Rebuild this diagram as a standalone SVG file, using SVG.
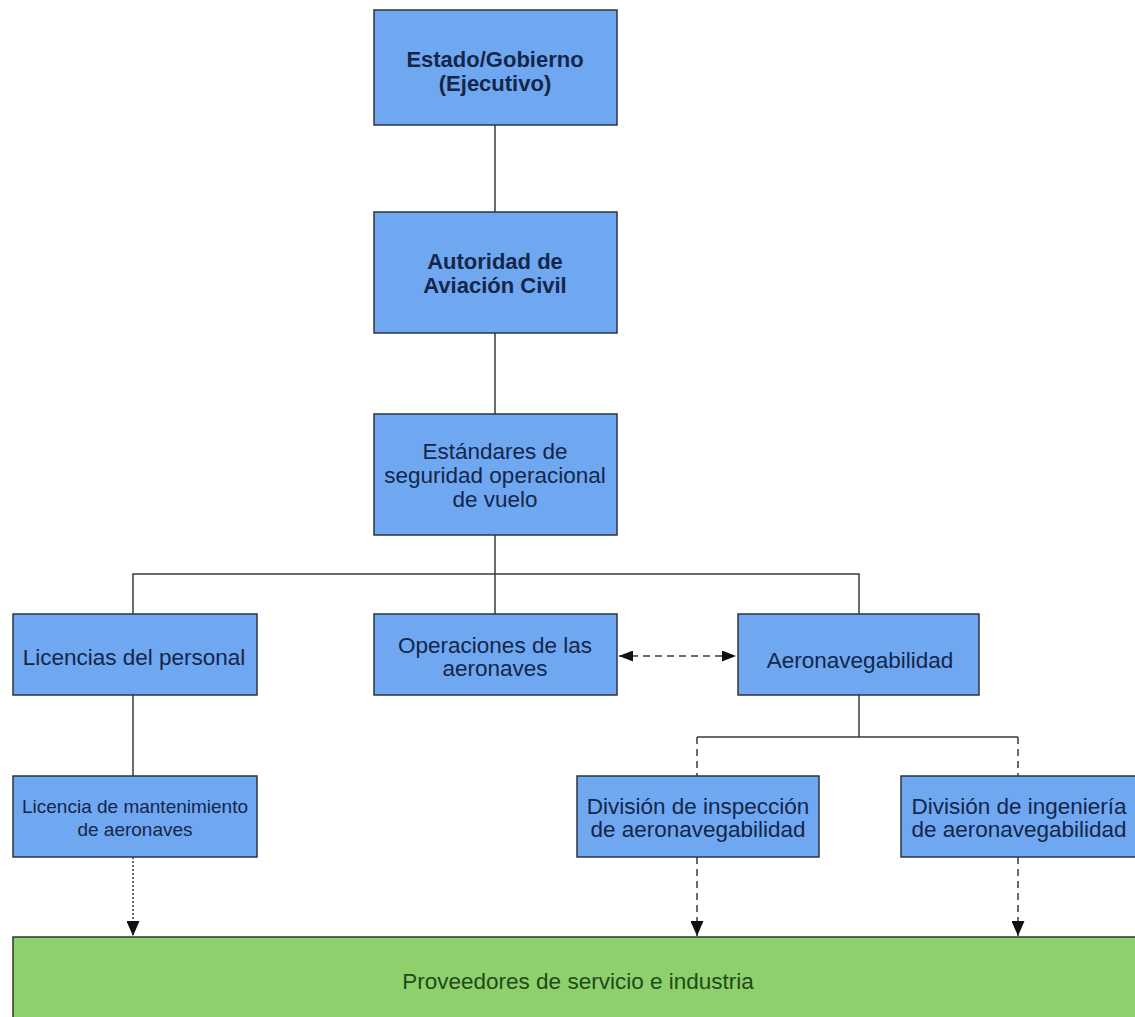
<svg xmlns="http://www.w3.org/2000/svg" width="1135" height="1017" viewBox="0 0 1135 1017">
<defs>
<style>
.box{fill:#6fa8f1;stroke:#2b3442;stroke-width:1.5}
.green{fill:#8ed06b;stroke:#2b3a2b;stroke-width:1.5}
.t{font-family:"Liberation Sans",Arial,sans-serif;font-size:22.5px;fill:#14264a;text-anchor:middle}
.b{font-weight:bold;font-size:22px}
.s{font-size:19px}
.g{fill:#1f4a1a}
.ln{stroke:#3a3a3a;stroke-width:1.5;fill:none}
.dash{stroke-dasharray:7,5}
.dot{stroke-dasharray:2,2}
</style>
<marker id="ah" viewBox="0 0 10 10" refX="10" refY="5" markerWidth="14" markerHeight="11" markerUnits="userSpaceOnUse" orient="auto-start-reverse" preserveAspectRatio="none">
<path d="M0,0 L10,5 L0,10 z" fill="#111"/>
</marker>
<marker id="ahd" viewBox="0 0 10 10" refX="10" refY="5" markerWidth="15" markerHeight="13" markerUnits="userSpaceOnUse" orient="auto" preserveAspectRatio="none">
<path d="M0,0 L10,5 L0,10 z" fill="#111"/>
</marker>
</defs>
<rect width="1135" height="1017" fill="#ffffff"/>
<g id="connectors">
<line class="ln" x1="495" y1="125" x2="495" y2="212"/>
<line class="ln" x1="495" y1="333" x2="495" y2="414"/>
<line class="ln" x1="495" y1="535" x2="495" y2="614"/>
<polyline class="ln" points="133,614 133,574 859,574 859,614"/>
<line class="ln" x1="133" y1="695" x2="133" y2="776"/>
<line class="ln dash" x1="619" y1="656" x2="736" y2="656" marker-start="url(#ah)" marker-end="url(#ah)"/>
<line class="ln" x1="859" y1="695" x2="859" y2="737"/>
<line class="ln" x1="697" y1="737" x2="1018" y2="737"/>
<line class="ln dash" x1="697" y1="737" x2="697" y2="776"/>
<line class="ln dash" x1="1018" y1="737" x2="1018" y2="776"/>
<line class="ln dot" x1="133" y1="857" x2="133" y2="936" marker-end="url(#ahd)"/>
<line class="ln dash" x1="697" y1="857" x2="697" y2="936" marker-end="url(#ahd)"/>
<line class="ln dash" x1="1018" y1="857" x2="1018" y2="936" marker-end="url(#ahd)"/>
</g>
<g id="n-estado">
<rect class="box" x="374" y="10" width="243" height="115"/>
<text class="t b" x="495" y="67">Estado/Gobierno</text>
<text class="t b" x="495" y="91">(Ejecutivo)</text>
</g>
<g id="n-autoridad">
<rect class="box" x="374" y="212" width="243" height="121"/>
<text class="t b" x="495" y="269">Autoridad de</text>
<text class="t b" x="495" y="293">Aviación Civil</text>
</g>
<g id="n-estandares">
<rect class="box" x="374" y="414" width="243" height="121"/>
<text class="t" x="495" y="459">Estándares de</text>
<text class="t" x="495" y="483">seguridad operacional</text>
<text class="t" x="495" y="507">de vuelo</text>
</g>
<g id="n-licencias">
<rect class="box" x="13" y="614" width="244" height="81"/>
<text class="t" x="134" y="665">Licencias del personal</text>
</g>
<g id="n-operaciones">
<rect class="box" x="374" y="614" width="243" height="81"/>
<text class="t" x="495" y="653">Operaciones de las</text>
<text class="t" x="495" y="676">aeronaves</text>
</g>
<g id="n-aeronavegabilidad">
<rect class="box" x="738" y="614" width="241" height="81"/>
<text class="t" x="860" y="668">Aeronavegabilidad</text>
</g>
<g id="n-licencia-mant">
<rect class="box" x="13" y="776" width="244" height="81"/>
<text class="t s" x="135" y="813">Licencia de mantenimiento</text>
<text class="t s" x="135" y="836">de aeronaves</text>
</g>
<g id="n-inspeccion">
<rect class="box" x="577" y="776" width="242" height="81"/>
<text class="t" x="698" y="814">División de inspección</text>
<text class="t" x="698" y="837">de aeronavegabilidad</text>
</g>
<g id="n-ingenieria">
<rect class="box" x="901" y="776" width="240" height="81"/>
<text class="t" x="1019" y="814">División de ingeniería</text>
<text class="t" x="1019" y="837">de aeronavegabilidad</text>
</g>
<g id="n-proveedores">
<rect class="green" x="13" y="937" width="1130" height="90"/>
<text class="t g" x="578" y="989">Proveedores de servicio e industria</text>
</g>
</svg>
